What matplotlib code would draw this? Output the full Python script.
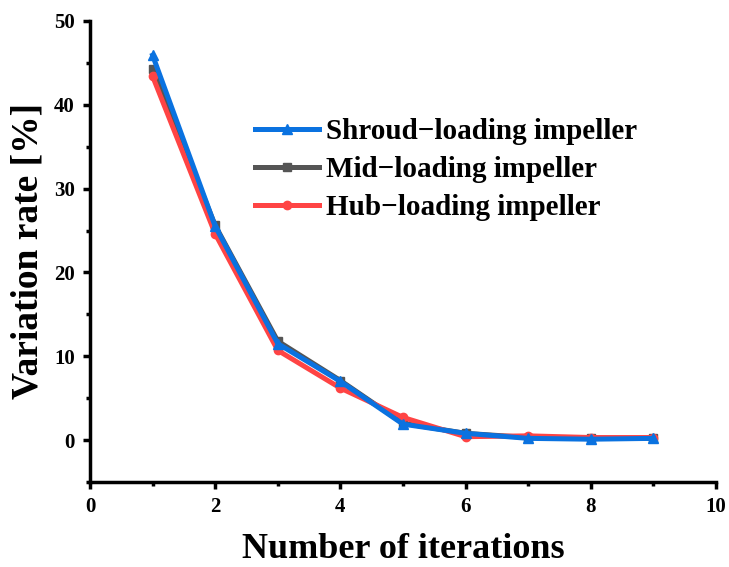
import matplotlib.pyplot as plt
from matplotlib.ticker import MultipleLocator

iterations = [1, 2, 3, 4, 5, 6, 7, 8, 9]
shroud = [45.9, 25.5, 11.5, 7.0, 1.9, 0.8, 0.2, 0.1, 0.2]
mid = [44.3, 25.6, 11.8, 7.1, 2.0, 0.8, 0.3, 0.2, 0.2]
hub = [43.4, 24.6, 10.7, 6.2, 2.7, 0.4, 0.5, 0.3, 0.3]

plt.rcParams['font.family'] = 'Liberation Serif'
plt.rcParams['font.weight'] = 'bold'

fig = plt.figure(figsize=(7.29, 5.67), dpi=100)
ax = fig.add_axes([0.1235, 0.150, 0.8585, 0.813])

# 颜色
c_shroud = '#0a72e0'
c_mid = '#555555'
c_hub = '#ff4444'

ax.plot(iterations, mid, color=c_mid, lw=3.6, marker='s', ms=6, label='Mid\u2212loading impeller')
ax.plot(iterations, hub, color=c_hub, lw=3.6, marker='o', ms=6, label='Hub\u2212loading impeller')
ax.plot(iterations, shroud, color=c_shroud, lw=3.6, marker='^', ms=7, label='Shroud\u2212loading impeller')

ax.set_xlim(0, 10)
ax.set_ylim(-5, 50)
ax.xaxis.set_major_locator(MultipleLocator(2))
ax.xaxis.set_minor_locator(MultipleLocator(1))
ax.yaxis.set_major_locator(MultipleLocator(10))
ax.yaxis.set_minor_locator(MultipleLocator(5))

for s in ['top', 'right']:
    ax.spines[s].set_visible(False)
for s in ['left', 'bottom']:
    ax.spines[s].set_linewidth(2.5)
ax.tick_params(which='major', direction='out', length=5, width=2.5, labelsize=15, pad=6)
ax.tick_params(which='minor', direction='out', length=3, width=2.5)

ax.set_xlabel('Number of iterations', fontsize=26, fontweight='bold', labelpad=11)
ax.set_ylabel('Variation rate [%]', fontsize=27, fontweight='bold', labelpad=6)

h, l = ax.get_legend_handles_labels()
order = [2, 0, 1]
ax.legend([h[i] for i in order], [l[i] for i in order], loc='upper left', bbox_to_anchor=(0.245, 0.815),
          frameon=False, prop={'weight': 'bold', 'size': 21},
          handlelength=2.2, handletextpad=0.25, labelspacing=0.38, borderaxespad=0)

fig.savefig('out.png', dpi=100)
